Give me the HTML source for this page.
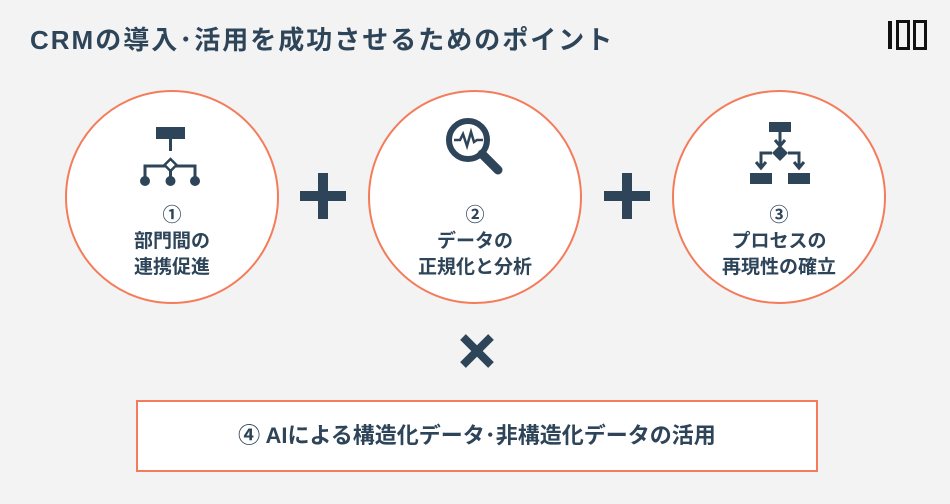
<!DOCTYPE html>
<html><head><meta charset="utf-8"><style>
body{margin:0;width:950px;height:504px;background:#f3f3f3;position:relative;overflow:hidden;font-family:"Liberation Sans","Noto Sans CJK JP",sans-serif;color:#2d4459}
.t{position:absolute;left:30px;top:20px;font-size:26px;font-weight:bold;letter-spacing:2px}
.c{position:absolute;top:90px;width:210px;height:210px;border:2px solid #f47c5a;border-radius:50%;background:#fff}
.lb{position:absolute;left:0;right:0;top:111px;text-align:center;font-size:19px;font-weight:bold;line-height:26px}
.box{position:absolute;left:136px;top:400px;width:678px;height:68px;border:2px solid #f47c5a;background:#fff;text-align:center;line-height:68px;font-size:22px;font-weight:bold}
</style></head><body>
<div class="t">CRMの導入･活用を成功させるためのポイント</div>
<svg style="position:absolute;left:886px;top:19px" width="44" height="32" viewBox="0 0 44 32">
<rect x="2" y="2" width="4" height="28" fill="#111"/>
<rect x="11.5" y="2.5" width="11" height="27" fill="none" stroke="#111" stroke-width="3"/>
<rect x="28.5" y="2.5" width="11" height="27" fill="none" stroke="#111" stroke-width="3"/>
</svg>
<div class="c" style="left:65px">
<svg style="position:absolute;left:66px;top:35px" width="76" height="62" viewBox="0 0 76 62">
<rect x="23" y="0" width="29" height="12" fill="#2d4459"/>
<rect x="36" y="12" width="3" height="12" fill="#2d4459"/>
<path d="M12 52V39H62V52" fill="none" stroke="#2d4459" stroke-width="3"/>
<path d="M37.5 32l6 6-6 6-6-6z" fill="#fff" stroke="#2d4459" stroke-width="2.5"/>
<rect x="36" y="44" width="3" height="8" fill="#2d4459"/>
<circle cx="12" cy="54" r="5" fill="#2d4459"/><circle cx="37.5" cy="54" r="5" fill="#2d4459"/><circle cx="62" cy="54" r="5" fill="#2d4459"/>
</svg>
<div class="lb">①<br>部門間の<br>連携促進</div></div>
<div class="c" style="left:368px">
<svg style="position:absolute;left:74px;top:24px" width="64" height="64" viewBox="0 0 64 64">
<circle cx="24" cy="24" r="19" fill="none" stroke="#2d4459" stroke-width="6"/>
<path d="M10 24h6l3-6 4 12 4-14 3 10 3-2h6" fill="none" stroke="#2d4459" stroke-width="2.5"/>
<path d="M38 38l16 16" stroke="#2d4459" stroke-width="9" stroke-linecap="round"/>
</svg>
<div class="lb">②<br>データの<br>正規化と分析</div></div>
<div class="c" style="left:672px">
<svg style="position:absolute;left:76px;top:30px" width="60" height="66" viewBox="0 0 60 66">
<rect x="19" y="0" width="22" height="10" fill="#2d4459"/>
<path d="M30 10v12" stroke="#2d4459" stroke-width="3"/><path d="M25 18l5 6 5-6" fill="none" stroke="#2d4459" stroke-width="3"/>
<path d="M30 23l8 8-8 8-8-8z" fill="#2d4459"/>
<path d="M22 31H11v13M38 31h11v13" fill="none" stroke="#2d4459" stroke-width="3"/>
<path d="M6 40l5 6 5-6M44 40l5 6 5-6" fill="none" stroke="#2d4459" stroke-width="3"/>
<rect x="0" y="51" width="22" height="11" fill="#2d4459"/><rect x="38" y="51" width="22" height="11" fill="#2d4459"/>
</svg>
<div class="lb">③<br>プロセスの<br>再現性の確立</div></div>
<svg style="position:absolute;left:300px;top:173px" width="46" height="46"><rect x="18" y="0" width="10" height="46" fill="#2d4459"/><rect x="0" y="18" width="46" height="10" fill="#2d4459"/></svg>
<svg style="position:absolute;left:604px;top:173px" width="46" height="46"><rect x="18" y="0" width="10" height="46" fill="#2d4459"/><rect x="0" y="18" width="46" height="10" fill="#2d4459"/></svg>
<svg style="position:absolute;left:459px;top:333px" width="36" height="36"><path d="M4 4L32 32M32 4L4 32" stroke="#2d4459" stroke-width="8"/></svg>
<div class="box">④ AIによる構造化データ･非構造化データの活用</div>
</body></html>
